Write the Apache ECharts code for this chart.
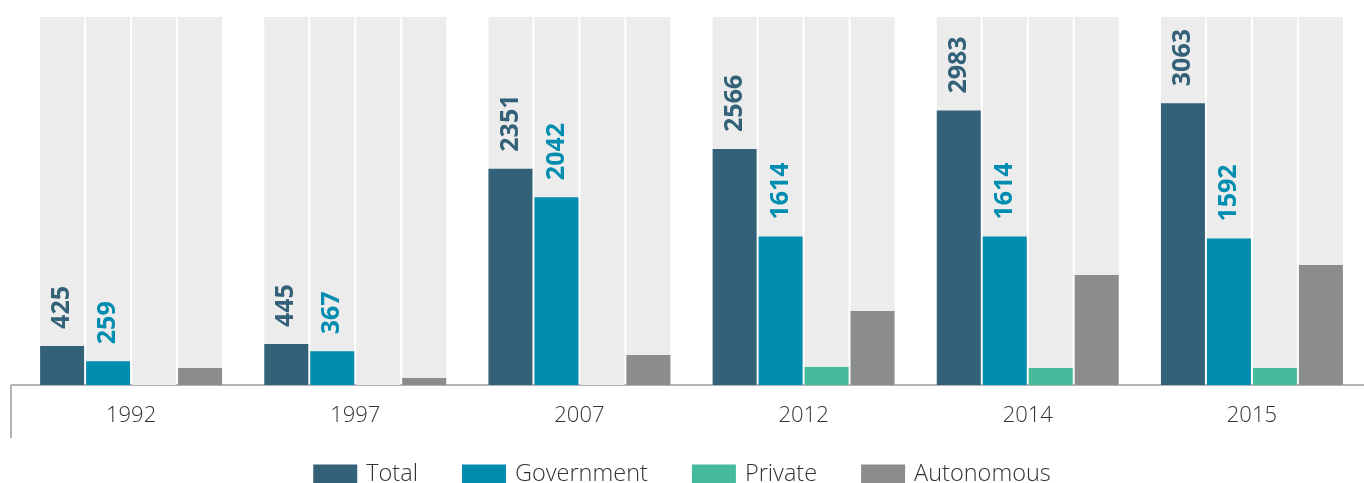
<!DOCTYPE html>
<html>
<head>
<meta charset="utf-8">
<script src="https://cdn.jsdelivr.net/npm/echarts@6/dist/echarts.min.js"></script>
<style>
  html, body { margin: 0; padding: 0; background: #ffffff; }
  #chart { width: 1364px; height: 483px; }
</style>
</head>
<body>
<div id="chart"></div>
<script>
// Institutions by type, per survey year
const years = ['1992', '1997', '2007', '2012', '2014', '2015'];
const seriesNames = ['Total', 'Government', 'Private', 'Autonomous'];
const total = [425, 445, 2351, 2566, 2983, 3063];
const government = [259, 367, 2042, 1614, 1614, 1592];
const privateInst = [0, 0, 0, 196, 185, 185];
const autonomous = [185, 76, 326, 804, 1196, 1304];
const yMax = 4000;

const colors = ['#336278', '#008db0', '#45bb9c', '#8b8c8e'];
const fontFamily = '"Open Sans", "Noto Sans", sans-serif';

function barSeries(name, data, color, withLabel) {
  return {
    name: name,
    type: 'bar',
    data: data,
    barWidth: 44,
    barGap: '4.5%',
    barCategoryGap: '18.75%',
    showBackground: true,
    backgroundStyle: { color: '#ececec' },
    itemStyle: { color: color },
    label: {
      show: withLabel,
      position: 'top',
      rotate: 90,
      align: 'left',
      verticalAlign: 'middle',
      distance: 17,
      color: color,
      fontFamily: fontFamily,
      fontWeight: 'bold',
      fontSize: 25
    }
  };
}

const chart = echarts.init(document.getElementById('chart'), null, { renderer: 'canvas' });
chart.setOption({
  animation: false,
  grid: { left: 19, right: 0, top: 17, bottom: 98 },
  legend: {
    data: seriesNames,
    left: 'center',
    top: 457,
    itemWidth: 44,
    itemHeight: 19,
    itemGap: 44,
    icon: 'rect',
    textStyle: { fontFamily: fontFamily, fontSize: 23.5, fontWeight: 300, color: '#333333', padding: [0, 0, 0, 4] }
  },
  xAxis: {
    type: 'category',
    data: years,
    axisLine: { show: true, lineStyle: { color: '#b3b3b3', width: 2 } },
    axisTick: { show: false },
    axisLabel: { color: '#333333', fontFamily: fontFamily, fontSize: 22, fontWeight: 300, margin: 20 }
  },
  yAxis: {
    type: 'value',
    min: 0,
    max: yMax,
    show: false,
    splitLine: { show: false }
  },
  graphic: [
    { type: 'line', shape: { x1: 11, y1: 385, x2: 19, y2: 385 }, style: { stroke: '#b3b3b3', lineWidth: 2 } },
    { type: 'line', shape: { x1: 11, y1: 385, x2: 11, y2: 438 }, style: { stroke: '#b3b3b3', lineWidth: 2 } }
  ],
  series: [
    barSeries(seriesNames[0], total, colors[0], true),
    barSeries(seriesNames[1], government, colors[1], true),
    barSeries(seriesNames[2], privateInst, colors[2], false),
    barSeries(seriesNames[3], autonomous, colors[3], false)
  ]
});
</script>
</body>
</html>
